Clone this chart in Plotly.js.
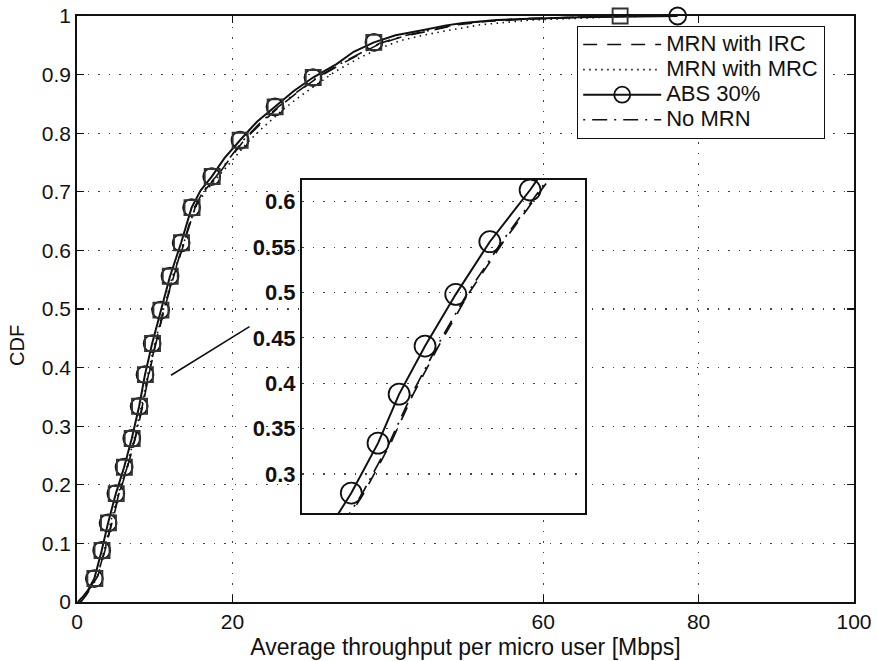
<!DOCTYPE html>
<html><head><meta charset="utf-8">
<script src="https://cdn.plot.ly/plotly-3.0.1.min.js"></script>
<style>html,body{margin:0;padding:0;background:#fff}</style>
</head><body>
<div id="chart" style="width:877px;height:661px"></div>
<script>
// ---- data ----
const absX = [0.1, 0.7, 1.4, 2.23, 3.18, 4.0, 5.0, 6.06, 7.05, 8.0, 8.75, 9.67, 10.76, 11.97, 13.4, 14.75, 15.9, 17.34, 19.0, 20.98, 23.2, 25.48, 27.9, 30.37, 33.4, 35.6, 38.22, 41.0, 44.6, 47.5, 49.7, 54, 58.3, 64.7, 70, 77.3];
const absY = [0, 0.008, 0.02, 0.04, 0.088, 0.135, 0.185, 0.23, 0.279, 0.334, 0.388, 0.441, 0.498, 0.556, 0.613, 0.673, 0.702, 0.726, 0.758, 0.788, 0.82, 0.845, 0.872, 0.895, 0.918, 0.939, 0.955, 0.967, 0.976, 0.984, 0.988, 0.993, 0.9955, 0.998, 0.9995, 1.0];
const absMarked = [0, 0, 0, 1, 1, 1, 1, 1, 1, 1, 1, 1, 1, 1, 1, 1, 0, 1, 0, 1, 0, 1, 0, 1, 0, 0, 1, 0, 0, 0, 0, 0, 0, 0, 0, 1];

const ircX = [0.5, 1.2, 2.0, 2.7, 3.6, 4.45, 5.45, 6.5, 7.5, 8.45, 9.25, 10.15, 11.2, 12.45, 13.8, 15.2, 16.4, 18.0, 19.6, 21.5, 23.8, 26.0, 28.4, 31.0, 34.0, 36.5, 39.0, 42, 45.5, 49, 53, 58.5, 65, 70];
const ircY = [0, 0.012, 0.03, 0.045, 0.088, 0.135, 0.185, 0.23, 0.279, 0.334, 0.388, 0.441, 0.498, 0.556, 0.613, 0.673, 0.702, 0.726, 0.755, 0.788, 0.818, 0.845, 0.87, 0.895, 0.918, 0.936, 0.953, 0.965, 0.975, 0.985, 0.991, 0.995, 0.998, 1.0];

const mrcX = [0.35, 1.0, 1.8, 2.55, 3.5, 4.3, 5.3, 6.4, 7.35, 8.3, 9.1, 10.0, 11.1, 12.3, 13.75, 15.2, 16.5, 18.2, 20.0, 22.0, 23.8, 26.3, 28.6, 31.0, 33.2, 36.4, 39, 41.6, 44.5, 47.6, 51.9, 58.3, 64.7, 70, 75];
const mrcY = [0, 0.01, 0.025, 0.04, 0.088, 0.135, 0.185, 0.23, 0.279, 0.334, 0.388, 0.441, 0.498, 0.556, 0.613, 0.673, 0.7, 0.726, 0.755, 0.785, 0.808, 0.838, 0.862, 0.885, 0.905, 0.929, 0.945, 0.958, 0.967, 0.975, 0.985, 0.993, 0.996, 0.999, 1.0];

const noX = [0.45, 1.15, 1.95, 2.65, 3.55, 4.4, 5.4, 6.45, 7.45, 8.4, 9.2, 10.1, 11.15, 12.4, 13.75, 15.1, 16.3, 17.9, 19.5, 21.4, 23.6, 25.9, 28.3, 30.9, 33.8, 36.4, 38.9, 42, 45.5, 49, 53, 58.5, 65, 70];
const noY = [0, 0.012, 0.03, 0.045, 0.088, 0.135, 0.185, 0.23, 0.279, 0.334, 0.388, 0.441, 0.498, 0.556, 0.613, 0.673, 0.702, 0.726, 0.755, 0.788, 0.818, 0.845, 0.87, 0.895, 0.918, 0.936, 0.953, 0.966, 0.976, 0.986, 0.992, 0.996, 0.998, 1.0];

const sqX = [2.3, 3.22, 4.05, 5.05, 6.1, 7.1, 8.05, 8.8, 9.72, 10.8, 12.0, 13.45, 14.8, 17.4, 21.0, 25.5, 30.4, 38.2, 69.9];
const sqY = [0.04, 0.088, 0.135, 0.185, 0.23, 0.279, 0.334, 0.388, 0.441, 0.498, 0.556, 0.613, 0.673, 0.726, 0.788, 0.845, 0.895, 0.955, 1.0];

const pointerX = [12.1, 22.2];
const pointerY = [0.387, 0.47];

const xTickVals = [0, 20, 60, 80, 100];
const xTickText = ['0', '20', '60', '80', '100'];
const yTickVals = [0, 0.1, 0.2, 0.3, 0.4, 0.5, 0.6, 0.7, 0.8, 0.9, 1];
const yTickText = ['0', '0.1', '0.2', '0.3', '0.4', '0.5', '0.6', '0.7', '0.8', '0.9', '1'];
const insetTickVals = [0.3, 0.35, 0.4, 0.45, 0.5, 0.55, 0.6];
const insetTickText = ['0.3', '0.35', '0.4', '0.45', '0.5', '0.55', '0.6'];

const seriesNames = ['MRN with IRC', 'MRN with MRC', 'ABS 30%', 'No MRN'];

// ---- styles ----
const FONT = 'Liberation Sans, Arial, Helvetica, sans-serif';
const BLK = '#111';
const dashIRC = '14px,10px';
const dashMRC = '1.5px,4.5px';
const dashNo = '2px,7px,15px,7px';
const legendName = n => '<span style="font-size:22px">' + n + '</span>';

const revX = absX.slice().reverse();
const revY = absY.slice().reverse();
const revCol = absMarked.slice().reverse().map(m => m ? BLK : 'rgba(0,0,0,0)');

const traces = [
  {x: ircX, y: ircY, mode: 'lines', name: legendName(seriesNames[0]),
   line: {color: BLK, width: 1.6, dash: dashIRC}},
  {x: mrcX, y: mrcY, mode: 'lines', name: legendName(seriesNames[1]),
   line: {color: BLK, width: 1.6, dash: dashMRC}},
  {x: revX, y: revY, mode: 'lines+markers', name: legendName(seriesNames[2]), cliponaxis: false,
   line: {color: BLK, width: 2},
   marker: {symbol: 'circle-open', size: 17, color: revCol, line: {width: 1.8}}},
  {x: noX, y: noY, mode: 'lines', name: legendName(seriesNames[3]),
   line: {color: BLK, width: 1.6, dash: dashNo}},
  {x: sqX, y: sqY, mode: 'markers', showlegend: false, cliponaxis: false,
   marker: {symbol: 'square-open', size: 15, color: '#333', line: {width: 1.9}}},
  {x: pointerX, y: pointerY, mode: 'lines', showlegend: false,
   line: {color: BLK, width: 1.6}},
  // inset
  {x: ircX, y: ircY, xaxis: 'x2', yaxis: 'y2', mode: 'lines', showlegend: false,
   line: {color: BLK, width: 1.7, dash: dashIRC}},
  {x: noX, y: noY, xaxis: 'x2', yaxis: 'y2', mode: 'lines', showlegend: false,
   line: {color: BLK, width: 1.7, dash: dashNo}},
  {x: revX, y: revY, xaxis: 'x2', yaxis: 'y2', mode: 'lines+markers', showlegend: false,
   line: {color: BLK, width: 2},
   marker: {symbol: 'circle-open', size: 21, color: revCol, line: {width: 1.8}}}
];

const axisCommon = {
  showline: true, linecolor: BLK, linewidth: 1.8, mirror: 'ticks',
  ticks: 'inside', ticklen: 7, tickwidth: 1.2, tickcolor: BLK,
  showgrid: true, gridcolor: '#444', gridwidth: 1.2, griddash: '1.5px,9px',
  zeroline: false, tickfont: {family: FONT, size: 21, color: BLK}
};

const layout = {
  width: 877, height: 661,
  margin: {l: 77, r: 23, t: 16, b: 59},
  paper_bgcolor: '#fff', plot_bgcolor: '#fff',
  font: {family: FONT, color: BLK},
  hovermode: false,
  showlegend: true,
  xaxis: Object.assign({}, axisCommon, {
    range: [0, 100], tickvals: xTickVals, ticktext: xTickText,
    domain: [0, 1],
    title: {text: 'Average throughput per micro user [Mbps]', font: {family: FONT, size: 23, color: BLK}, standoff: 7}
  }),
  yaxis: Object.assign({}, axisCommon, {
    range: [0, 1], tickvals: yTickVals, ticktext: yTickText, domain: [0, 1]
  }),
  xaxis2: {
    domain: [0.2896, 0.6538], anchor: 'y2', range: [5.3, 15.35],
    showline: true, linecolor: BLK, linewidth: 2, mirror: true,
    showgrid: false, zeroline: false, showticklabels: false, ticks: ''
  },
  yaxis2: {
    domain: [0.1519, 0.7201], anchor: 'x2', range: [0.257, 0.624],
    tickvals: insetTickVals, ticktext: insetTickText,
    showline: true, linecolor: BLK, linewidth: 2, mirror: true,
    showgrid: true, gridcolor: '#444', gridwidth: 1.2, griddash: '1.5px,9px',
    zeroline: false, ticks: '',
    tickfont: {family: FONT, size: 22, color: BLK, weight: 'bold'}
  },
  legend: {
    x: 0.6435, y: 0.9834, xanchor: 'left', yanchor: 'top',
    bgcolor: '#fff', bordercolor: BLK, borderwidth: 1.2,
    font: {family: FONT, size: 17, color: BLK},
    itemwidth: 78, tracegroupgap: 0
  },
  annotations: [{
    text: 'CDF', xref: 'paper', yref: 'paper', x: -0.0772, y: 0.437,
    textangle: -90, showarrow: false, xanchor: 'center', yanchor: 'middle',
    font: {family: FONT, size: 20, color: BLK}
  }]
};

Plotly.newPlot('chart', traces, layout, {displayModeBar: false, staticPlot: true});
</script>
</body></html>
